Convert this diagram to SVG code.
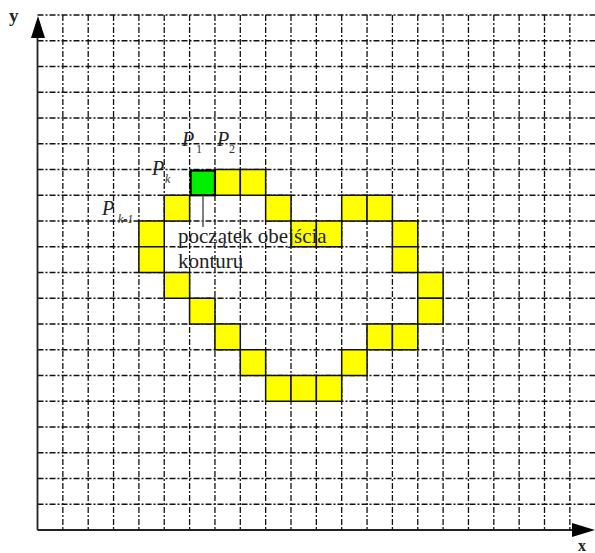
<svg xmlns="http://www.w3.org/2000/svg" width="595" height="553" viewBox="0 0 595 553">
<style>
.grid{fill:none;stroke:#111;stroke-width:1.3;stroke-dasharray:6 2 2 2}
.cell{fill:#ffff00;stroke:#111;stroke-width:1.5}
.start{fill:#00ee00;stroke:#000;stroke-width:2.2}
.axis{stroke:#222;stroke-width:1.8;fill:none}
.lab{font-family:"Liberation Serif",serif;fill:#222}
.P{font-family:"Liberation Serif",serif;font-style:italic;font-size:20px;fill:#222}
.sub{font-family:"Liberation Serif",serif;font-size:12px;fill:#333}
</style>
<rect width="595" height="553" fill="#fff"/>
<g id="grid">
<path class="grid" d="M62.85,15V530M88.2,15V530M113.55,15V530M138.9,15V530M164.25,15V530M189.6,15V530M214.95,15V530M240.3,15V530M265.65,15V530M291,15V530M316.35,15V530M341.7,15V530M367.05,15V530M392.4,15V530M417.75,15V530M443.1,15V530M468.45,15V530M493.8,15V530M519.15,15V530M544.5,15V530M569.85,15V530"/>
<path class="grid" d="M37.5,15H595M37.5,40.75H595M37.5,66.5H595M37.5,92.25H595M37.5,118H595M37.5,143.75H595M37.5,169.5H595M37.5,195.25H595M37.5,221H595M37.5,246.75H595M37.5,272.5H595M37.5,298.25H595M37.5,324H595M37.5,349.75H595M37.5,375.5H595M37.5,401.25H595M37.5,427H595M37.5,452.75H595M37.5,478.5H595M37.5,504.25H595"/>
</g>
<g id="contour">
<rect class="cell" x="214.95" y="169.5" width="25.35" height="25.75"/>
<rect class="cell" x="240.3" y="169.5" width="25.35" height="25.75"/>
<rect class="cell" x="164.25" y="195.25" width="25.35" height="25.75"/>
<rect class="cell" x="265.65" y="195.25" width="25.35" height="25.75"/>
<rect class="cell" x="341.7" y="195.25" width="25.35" height="25.75"/>
<rect class="cell" x="367.05" y="195.25" width="25.35" height="25.75"/>
<rect class="cell" x="138.9" y="221" width="25.35" height="25.75"/>
<rect class="cell" x="291" y="221" width="25.35" height="25.75"/>
<rect class="cell" x="316.35" y="221" width="25.35" height="25.75"/>
<rect class="cell" x="392.4" y="221" width="25.35" height="25.75"/>
<rect class="cell" x="138.9" y="246.75" width="25.35" height="25.75"/>
<rect class="cell" x="392.4" y="246.75" width="25.35" height="25.75"/>
<rect class="cell" x="164.25" y="272.5" width="25.35" height="25.75"/>
<rect class="cell" x="417.75" y="272.5" width="25.35" height="25.75"/>
<rect class="cell" x="189.6" y="298.25" width="25.35" height="25.75"/>
<rect class="cell" x="417.75" y="298.25" width="25.35" height="25.75"/>
<rect class="cell" x="214.95" y="324" width="25.35" height="25.75"/>
<rect class="cell" x="367.05" y="324" width="25.35" height="25.75"/>
<rect class="cell" x="392.4" y="324" width="25.35" height="25.75"/>
<rect class="cell" x="240.3" y="349.75" width="25.35" height="25.75"/>
<rect class="cell" x="341.7" y="349.75" width="25.35" height="25.75"/>
<rect class="cell" x="265.65" y="375.5" width="25.35" height="25.75"/>
<rect class="cell" x="291" y="375.5" width="25.35" height="25.75"/>
<rect class="cell" x="316.35" y="375.5" width="25.35" height="25.75"/>
</g>
<g id="start-cell">
<rect class="start" x="190.6" y="170.5" width="24.35" height="24.75"/>
</g>
<g id="connectors">
<line x1="203" y1="195.25" x2="203" y2="227" stroke="#555" stroke-width="1.5"/>
</g>
<g id="axes">
<line class="axis" x1="37.5" y1="530" x2="37.5" y2="36"/>
<line class="axis" x1="37.5" y1="530" x2="573" y2="530"/>
<polygon points="38,16 31,38 45,38" fill="#000"/>
<polygon points="595,530 572,523 572,537" fill="#000"/>
<text class="lab" x="9" y="22" font-size="19" font-weight="bold">y</text>
<text class="lab" x="578" y="551" font-size="16" font-weight="bold">x</text>
</g>
<g id="labels">
<text class="P" x="182" y="146">P</text><text class="sub" x="196" y="153">1</text>
<text class="P" x="217" y="146">P</text><text class="sub" x="229" y="153">2</text>
<text class="P" x="152" y="175">P</text><text class="sub" x="165" y="183" font-style="italic">k</text>
<text class="P" x="102" y="215">P</text><text class="sub" x="118" y="223" font-style="italic" font-size="10">k-1</text>
<text class="lab" x="178" y="243" font-size="21">początek obejścia</text>
<text class="lab" x="178" y="268" font-size="21">konturu</text>
</g>
</svg>
